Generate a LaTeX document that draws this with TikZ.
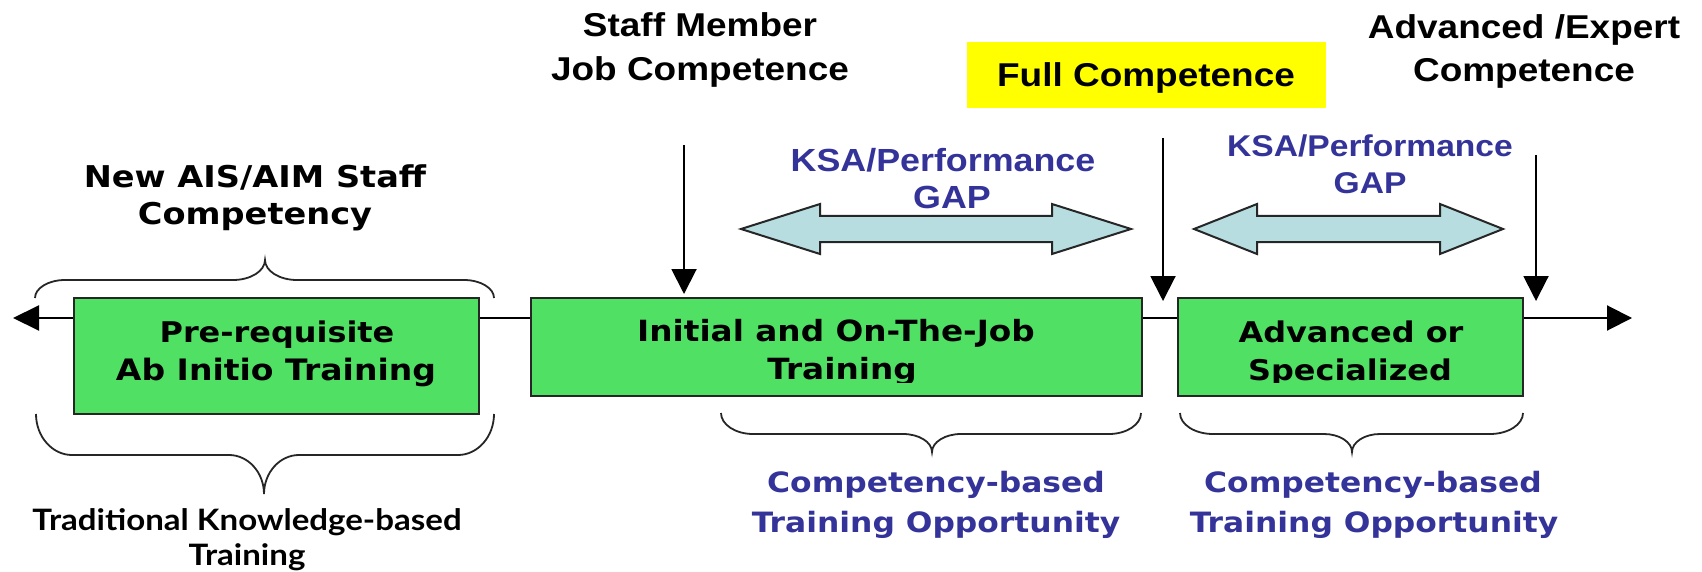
\documentclass[tikz,border=0pt]{standalone}
\usepackage{fontspec}
\usetikzlibrary{arrows.meta}
\newfontfamily\fA{Liberation Sans}[FakeStretch=1.12]
\newfontfamily\fV{DejaVu Sans}[FakeStretch=1.12]
\newfontfamily\fT{Lato}[FakeStretch=1.12]
\definecolor{boxgreen}{RGB}{80,224,100}
\definecolor{gapblue}{RGB}{183,221,225}
\definecolor{ksablue}{RGB}{51,51,153}
\definecolor{hiyellow}{RGB}{255,255,0}
\tikzset{
  txtA/.style={anchor=base, inner sep=0pt, font=\fA\bfseries\fontsize{33}{40}\selectfont},
  txtK/.style={anchor=base, inner sep=0pt, text=ksablue, font=\fA\bfseries\fontsize{30}{36}\selectfont},
  txtV/.style={anchor=base, inner sep=0pt, font=\fV\bfseries\fontsize{30}{36}\selectfont},
  txtB/.style={anchor=base, inner sep=0pt, font=\fV\bfseries\fontsize{28.5}{34}\selectfont},
  txtC/.style={anchor=base, inner sep=0pt, text=ksablue, font=\fV\bfseries\fontsize{28}{34}\selectfont},
  txtT/.style={anchor=base, inner sep=0pt, font=\fT\bfseries\fontsize{29.5}{34}\selectfont},
  greenbox/.style={draw=black!85, line width=2pt, fill=boxgreen, inner sep=0pt},
  yellowbox/.style={fill=hiyellow, inner sep=0pt, minimum width=359pt, minimum height=66pt},
  downarrow/.style={line width=2pt, -{Triangle[length=25pt,width=25pt]}},
  axisline/.style={line width=2pt, {Triangle[length=26pt,width=25pt]}-{Triangle[length=25pt,width=25pt]}},
  gaparrow/.style={draw=black!85, line width=2pt, fill=gapblue, line join=miter},
  braceline/.style={line width=1.8pt, black!85},
}
% horizontal curly brace: x1, x2, xc, y at ends, y of straight part, y of tip, end reach, middle reach
\newcommand\hbrace[8]{%
  \draw[braceline] (#1,#4) .. controls (#1,{#4+0.55*(#5-#4)}) and ({#1+0.45*#7},#5) .. ({#1+#7},#5)
    -- ({#3-#8},#5) .. controls ({#3-0.45*#8},#5) and (#3,{#6-0.55*(#6-#5)}) .. (#3,#6)
    .. controls (#3,{#6-0.55*(#6-#5)}) and ({#3+0.45*#8},#5) .. ({#3+#8},#5)
    -- ({#2-#7},#5) .. controls ({#2-0.45*#7},#5) and (#2,{#4+0.55*(#5-#4)}) .. (#2,#4);}
% block double arrow: left tip, left head base, right head base, right tip, centre y
\newcommand\gapshape[5]{%
  \draw[gaparrow] (#1,#5) -- (#2,#5-25) -- (#2,#5-13) -- (#3,#5-13) -- (#3,#5-25) -- (#4,#5)
    -- (#3,#5+25) -- (#3,#5+13) -- (#2,#5+13) -- (#2,#5+25) -- cycle;}
\begin{document}
\begin{tikzpicture}[x=1pt,y=-1pt]
\useasboundingbox (0,0) rectangle (1702,572);

% axis
\coordinate (axL) at (13,318);
\coordinate (axR) at (1632,318);
\draw[axisline] (axL) -- (axR);

% boxes
\node[greenbox, minimum width=405pt, minimum height=116pt] (b1) at (276.5,356) {};
\node[greenbox, minimum width=611pt, minimum height=98pt] (b2) at (836.5,347) {};
\node[greenbox, minimum width=345pt, minimum height=98pt] (b3) at (1350.5,347) {};

\node[txtB] (b1a) at (277,342) {Pre-requisite};
\node[txtB, font=\fV\bfseries\fontsize{29.5}{34}\selectfont] (b1b) at (276,380) {Ab Initio Training};
\node[txtB, font=\fV\bfseries\fontsize{29.2}{34}\selectfont] (b2a) at (836,341) {Initial and On-The-Job};
\node[txtB] (b3a) at (1351,342) {Advanced or};
\begin{scope}
  \clip (531,298) rectangle (1523,382);
  \node[txtB, font=\fV\bfseries\fontsize{29.2}{34}\selectfont] (b2b) at (842,379) {Training};
  \node[txtB] (b3b) at (1350,380) {Specialized};
\end{scope}

% top labels
\node[txtA] (sm1) at (700,37) {Staff Member};
\node[txtA] (sm2) at (700,81) {Job Competence};
\node[yellowbox] (fullbox) at (1146.5,75) {};
\node[txtA] (full) at (1146,87) {Full Competence};
\node[txtA] (ae1) at (1524,39) {Advanced /Expert};
\node[txtA] (ae2) at (1524,82) {Competence};

% down arrows
\coordinate (s1) at (684,145);  \coordinate (e1) at (684,294);
\coordinate (s2) at (1163,138); \coordinate (e2) at (1163,301);
\coordinate (s3) at (1536,155); \coordinate (e3) at (1536,301);
\draw[downarrow] (s1) -- (e1);
\draw[downarrow] (s2) -- (e2);
\draw[downarrow] (s3) -- (e3);

% gap arrows and labels
\gapshape{741}{820}{1052}{1131}{229}
\gapshape{1194}{1257}{1440}{1503}{229}
\node[txtK, font=\fA\bfseries\fontsize{32}{38}\selectfont] (k1a) at (943,172) {KSA/Performance};
\node[txtK, font=\fA\bfseries\fontsize{32}{38}\selectfont] (k1b) at (952,209) {GAP};
\node[txtK] (k2a) at (1370,157) {KSA/Performance};
\node[txtK] (k2b) at (1370,194) {GAP};

% left labels
\node[txtV] (na1) at (255,188) {New AIS/AIM Staff};
\node[txtV] (na2) at (255,225) {Competency};
\hbrace{35}{494}{265}{298}{280}{260}{30}{32}
\hbrace{36}{494}{264}{414}{455}{494}{36}{35}
\node[txtT] (tr1) at (247,530) {Traditional Knowledge-based};
\node[txtT] (tr2) at (247,565) {Training};

% bottom braces and labels
\hbrace{721}{1141}{932}{413}{434}{452}{32}{29}
\hbrace{1180}{1523}{1352}{413}{434}{452}{33}{28}
\node[txtC] (c1a) at (936,492) {Competency-based};
\node[txtC] (c1b) at (936,532) {Training Opportunity};
\node[txtC] (c2a) at (1373,492) {Competency-based};
\node[txtC] (c2b) at (1374,532) {Training Opportunity};
\end{tikzpicture}
\end{document}
